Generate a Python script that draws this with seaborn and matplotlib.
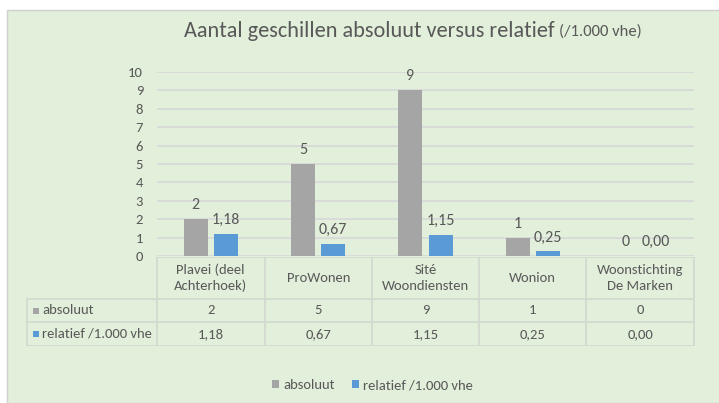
import pandas as pd
import matplotlib.pyplot as plt
import matplotlib.patches as mpatches
import seaborn as sns

# data
corporaties = ['Plavei (deel\nAchterhoek)', 'ProWonen', 'Sité\nWoondiensten', 'Wonion', 'Woonstichting\nDe Marken']
absoluut = [2, 5, 9, 1, 0]
relatief = [1.18, 0.67, 1.15, 0.25, 0.00]
series = ['absoluut', 'relatief /1.000 vhe']
yticks = list(range(0, 11))

GRAY = '#A5A5A5'
BLUE = '#5B9BD5'
BG = '#E2EFDA'
TXT = '#595959'
LINE = '#D3D9D0'

sns.set_theme(style='white')
plt.rcParams['font.family'] = ['Carlito', 'DejaVu Sans']


def nl(v, dec):
    return f'{v:.{dec}f}'.replace('.', ',')


df = pd.DataFrame({
    'corp': corporaties * 2,
    'serie': [series[0]] * 5 + [series[1]] * 5,
    'waarde': absoluut + relatief,
})

W, H = 719, 403
fig = plt.figure(figsize=(W / 100, H / 100), dpi=100)
fig.patch.set_facecolor('white')


def px(x0, y0, x1, y1):
    # pixel box (top-left origin) -> figure fraction rect
    return [x0 / W, 1 - y1 / H, (x1 - x0) / W, (y1 - y0) / H]


# chart background
fig.patches.append(mpatches.Rectangle((7 / W, 0), 1, 1 - 10 / H, transform=fig.transFigure,
                                      facecolor=BG, edgecolor='#D0D0D0', lw=1, zorder=-1))

ax = fig.add_axes(px(157, 72, 694, 256))
ax.set_facecolor('none')
sns.barplot(data=df, x='corp', y='waarde', hue='serie', palette=[GRAY, BLUE],
            width=0.56, gap=0.2, saturation=1, linewidth=0, ax=ax, legend=False)
for p in ax.patches:
    p.set_zorder(3)
ax.set_ylim(0, 10)
ax.set_xlim(-0.5, 4.5)
ax.set_yticks(yticks)
ax.set_yticklabels([str(t) for t in yticks], fontsize=10.5, color=TXT)
ax.tick_params(axis='y', length=0, pad=10)
ax.set_xticks([])
ax.set_xlabel('')
ax.set_ylabel('')
ax.set_axisbelow(True)
ax.grid(axis='y', color='#D9D9D9', lw=1.3, zorder=0)
for s in ax.spines.values():
    s.set_visible(False)

ax.bar_label(ax.containers[0], labels=[str(v) for v in absoluut], padding=5,
             fontsize=11.5, color=TXT)
ax.bar_label(ax.containers[1], labels=[nl(v, 2) for v in relatief], padding=5,
             fontsize=11.5, color=TXT)

# data table
tab = fig.add_axes(px(0, 257, 719, 346))
tab.set_xlim(0, W)
tab.set_ylim(346, 257)
tab.axis('off')
cols = [157, 264.5, 372, 479, 586, 694]
rows = [257, 299, 322, 346]
lc = dict(color=LINE, lw=1.3)
tab.plot([cols[0], cols[-1]], [rows[0]] * 2, **lc)
for y in rows[1:]:
    tab.plot([27, cols[-1]], [y, y], **lc)
tab.plot([27, 27], [rows[1], rows[3]], **lc)
for x in cols:
    tab.plot([x, x], [rows[0], rows[3]], **lc)

for i, name in enumerate(corporaties):
    xc = (cols[i] + cols[i + 1]) / 2
    tab.text(xc, (rows[0] + rows[1]) / 2, name, ha='center', va='center',
             fontsize=10.5, color=TXT, linespacing=1.35)
    tab.text(xc, (rows[1] + rows[2]) / 2, str(absoluut[i]), ha='center', va='center',
             fontsize=10.5, color=TXT)
    tab.text(xc, (rows[2] + rows[3]) / 2, nl(relatief[i], 2), ha='center', va='center',
             fontsize=10.5, color=TXT)

for r, (lab, col) in enumerate(zip(series, [GRAY, BLUE])):
    yc = (rows[r + 1] + rows[r + 2]) / 2
    tab.add_patch(mpatches.Rectangle((33, yc - 3), 6, 6, facecolor=col, edgecolor='none'))
    tab.text(42, yc, lab, ha='left', va='center', fontsize=10.5, color=TXT)

# legend
handles = [mpatches.Patch(facecolor=c, edgecolor='none', label=l) for l, c in zip(series, [GRAY, BLUE])]
leg = fig.legend(handles=handles, loc='center left', bbox_to_anchor=(272 / W, 1 - 385 / H), ncol=2,
                 frameon=False, fontsize=10.5, handlelength=0.5, handleheight=0.5,
                 handletextpad=0.25, columnspacing=1.2, borderpad=0, borderaxespad=0)
for t in leg.get_texts():
    t.set_color(TXT)

# title
fig.text(555 / W, 1 - 31 / H, 'Aantal geschillen absoluut versus relatief', ha='right', va='center',
         fontsize=16, color=TXT)
fig.text(559 / W, 1 - 32 / H, '(/1.000 vhe)', ha='left', va='center', fontsize=12, color=TXT)

fig.savefig('out.png', dpi=100)
